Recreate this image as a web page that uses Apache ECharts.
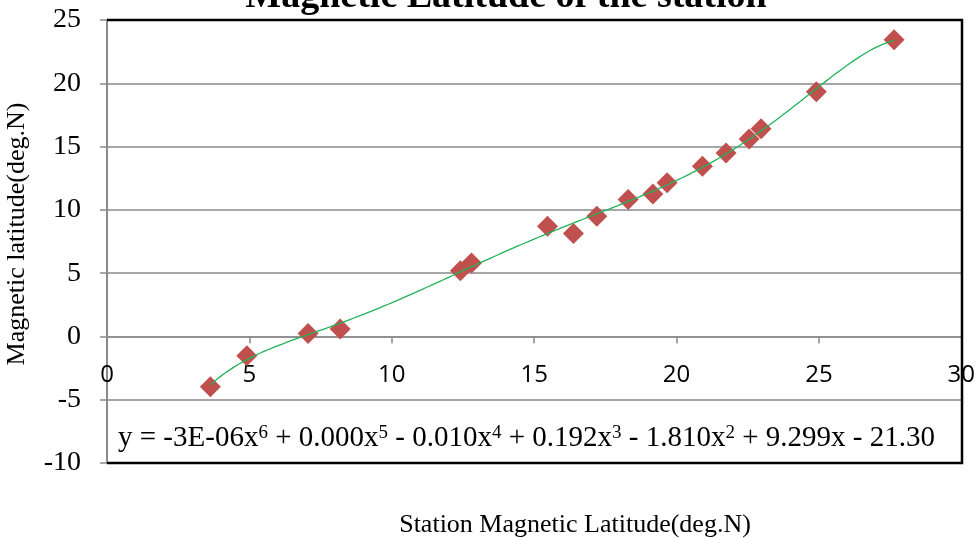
<!DOCTYPE html>
<html>
<head>
<meta charset="utf-8">
<script src="https://cdn.jsdelivr.net/npm/echarts@6/dist/echarts.min.js"></script>
<style>
  html, body { margin: 0; padding: 0; background: #fff; }
  #chart { width: 978px; height: 538px; }
</style>
</head>
<body>
<div id="chart"></div>
<script>
// Station magnetic latitude vs. computed magnetic latitude (deg.N)
const stationLat = [3.63, 4.91, 7.06, 8.19, 12.41, 12.80, 15.47, 16.38, 17.20, 18.30,
                    19.17, 19.67, 20.91, 21.74, 22.55, 22.97, 24.91, 27.64];
const magneticLat = [-3.98, -1.53, 0.24, 0.58, 5.19, 5.80, 8.70, 8.14, 9.50, 10.81,
                     11.26, 12.15, 13.44, 14.50, 15.60, 16.40, 19.34, 23.43];
const xTicks = [0, 5, 10, 15, 20, 25, 30];
const yTicks = [-10, -5, 0, 5, 10, 15, 20, 25];
const trendDegree = 6;
// Trendline equation, as [text, superscript] pieces
const equationParts = [
  ['y = -3E-06x', '6'], [' + 0.000x', '5'], [' - 0.010x', '4'], [' + 0.192x', '3'],
  [' - 1.810x', '2'], [' + 9.299x - 21.30', '']
];

// Least-squares polynomial trendline (x rescaled to [-1, 1] for stability)
function polyFit(xs, ys, deg) {
  const lo = Math.min(...xs), hi = Math.max(...xs);
  const c = (lo + hi) / 2, h = (hi - lo) / 2;
  const n = deg + 1;
  const A = Array.from({length: n}, () => new Array(n + 1).fill(0));
  xs.forEach((x, k) => {
    const t = (x - c) / h;
    const p = [];
    for (let i = 0; i < n; i++) p.push(Math.pow(t, i));
    for (let i = 0; i < n; i++) {
      for (let j = 0; j < n; j++) A[i][j] += p[i] * p[j];
      A[i][n] += p[i] * ys[k];
    }
  });
  for (let i = 0; i < n; i++) {
    let piv = i;
    for (let r = i + 1; r < n; r++) if (Math.abs(A[r][i]) > Math.abs(A[piv][i])) piv = r;
    [A[i], A[piv]] = [A[piv], A[i]];
    for (let r = 0; r < n; r++) {
      if (r === i) continue;
      const f = A[r][i] / A[i][i];
      for (let col = i; col <= n; col++) A[r][col] -= f * A[i][col];
    }
  }
  const coef = A.map((row, i) => row[n] / row[i]);
  return x => {
    const t = (x - c) / h;
    let s = 0;
    for (let i = n - 1; i >= 0; i--) s = s * t + coef[i];
    return s;
  };
}

const fit = polyFit(stationLat, magneticLat, trendDegree);
const xLo = Math.min(...stationLat), xHi = Math.max(...stationLat);
const trend = [];
for (let i = 0; i <= 200; i++) {
  const x = xLo + (xHi - xLo) * i / 200;
  trend.push([x, fit(x)]);
}

const G = { left: 107, right: 16, top: 20, bottom: 75 };
const W = 978, H = 538;
const yMin = yTicks[0], yMax = yTicks[yTicks.length - 1];
const plotH = H - G.top - G.bottom;
// horizontal axis crosses the vertical one at y = 0
const xAxisOffset = -((0 - yMin) / (yMax - yMin)) * plotH;
const serif = '"Liberation Serif", "Times New Roman", serif';
const gridGray = '#8a8a8a';

const eqText = equationParts.map(([t, s]) => '{n|' + t + '}' + (s ? '{s|' + s + '}' : '')).join('');

const chart = echarts.init(document.getElementById('chart'), null, { renderer: 'canvas' });
chart.setOption({
  animation: false,
  backgroundColor: '#fff',
  grid: { left: G.left, right: G.right, top: G.top, bottom: G.bottom, containLabel: false },
  xAxis: {
    type: 'value',
    min: xTicks[0], max: xTicks[xTicks.length - 1], interval: 5,
    offset: xAxisOffset,
    axisLine: { onZero: false, lineStyle: { color: gridGray, width: 1.6 } },
    axisTick: { show: true, length: 7, lineStyle: { color: gridGray, width: 1.5 } },
    axisLabel: { color: '#000', fontFamily: '"Open Sans", sans-serif', fontSize: 24, margin: 27,
                 showMinLabel: true, showMaxLabel: true },
    splitLine: { show: false }
  },
  yAxis: {
    type: 'value',
    min: yMin, max: yMax, interval: 5,
    axisLine: { show: true, lineStyle: { color: gridGray, width: 2 } },
    axisTick: { show: true, length: 7, lineStyle: { color: gridGray, width: 1.5 } },
    axisLabel: { color: '#000', fontFamily: serif, fontSize: 28, margin: 26 },
    splitLine: { show: true, lineStyle: { color: gridGray, width: 1.6 } }
  },
  graphic: [
    {
      type: 'polyline', z: 50,
      shape: { points: [[G.left, G.top], [W - G.right, G.top], [W - G.right, H - G.bottom], [G.left, H - G.bottom]] },
      style: { stroke: '#000', lineWidth: 2.5, fill: null }
    },
    {
      type: 'text', z: 60, x: 506, y: 16,
      style: { text: 'Magnetic Latitude of the station', font: 'bold 38px ' + serif, fill: '#000',
               textAlign: 'center', textVerticalAlign: 'bottom' }
    },
    {
      type: 'text', z: 60, x: 118, y: 440,
      style: {
        text: eqText, fill: '#000', textAlign: 'left', textVerticalAlign: 'middle',
        rich: {
          n: { fontFamily: serif, fontSize: 29, lineHeight: 32, verticalAlign: 'top', fill: '#000' },
          s: { fontFamily: serif, fontSize: 19, lineHeight: 18, verticalAlign: 'top', fill: '#000' }
        }
      }
    },
    {
      type: 'text', z: 60, x: 575, y: 525,
      style: { text: 'Station Magnetic Latitude(deg.N)', font: '26px ' + serif, fill: '#000',
               textAlign: 'center', textVerticalAlign: 'middle' }
    },
    {
      type: 'text', z: 60, x: 17, y: 234, rotation: Math.PI / 2,
      style: { text: 'Magnetic latitude(deg.N)', font: '26px ' + serif, fill: '#000',
               textAlign: 'center', textVerticalAlign: 'middle' }
    }
  ],
  series: [
    {
      type: 'scatter', z: 3,
      symbol: 'diamond', symbolSize: 21,
      itemStyle: { color: '#C0504D', opacity: 1 },
      data: stationLat.map((x, i) => [x, magneticLat[i]])
    },
    {
      type: 'line', z: 4,
      showSymbol: false, smooth: false,
      lineStyle: { color: '#22b35a', width: 1.3 },
      data: trend
    }
  ]
});
</script>
</body>
</html>
